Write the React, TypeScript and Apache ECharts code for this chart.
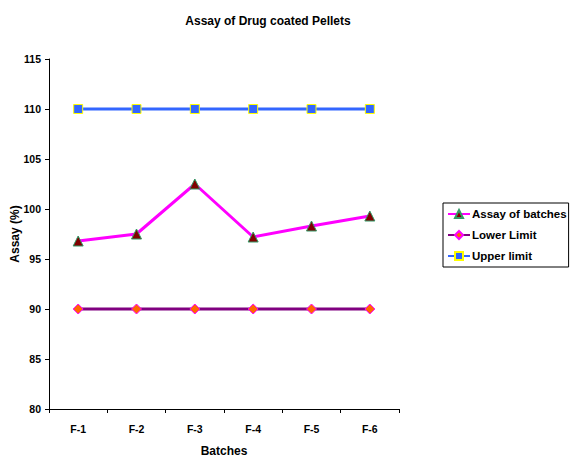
import React, { useEffect, useRef } from "react";
import * as echarts from "echarts";

const categories = ["F-1", "F-2", "F-3", "F-4", "F-5", "F-6"];
const assayValues = [96.8, 97.5, 102.5, 97.2, 98.3, 99.3];
const lowerLimit = [90, 90, 90, 90, 90, 90];
const upperLimit = [110, 110, 110, 110, 110, 110];

const FONT = "'Liberation Sans', Arial, sans-serif";

export default function App() {
  const ref = useRef<HTMLDivElement>(null);
  useEffect(() => {
    document.body.style.margin = "0";
    if (!ref.current) return;
    const chart = echarts.init(ref.current, null, { renderer: "svg" });
    chart.setOption({
      animation: false,
      backgroundColor: "#ffffff",
      textStyle: { fontFamily: FONT },
      title: {
        text: "Assay of Drug coated Pellets",
        left: 263,
        top: 10,
        textAlign: "center",
        textStyle: { fontSize: 12, fontWeight: "bold", color: "#000", fontFamily: FONT },
      },
      grid: { left: 49, right: 172, top: 59, bottom: 48, containLabel: false, outerBoundsMode: "none" },
      legend: {
        orient: "vertical",
        left: 443,
        top: 203,
        width: 127,
        padding: [5, 2, 5, 4],
        itemGap: 9,
        itemWidth: 22,
        itemHeight: 10,
        borderColor: "#000",
        borderWidth: 1,
        textStyle: { fontSize: 11.5, fontWeight: "bold", color: "#000", fontFamily: FONT, padding: [0, 0, 0, -3] },
        data: ["Assay of batches", "Lower Limit", "Upper limit"],
      },
      xAxis: {
        type: "category",
        data: categories,
        boundaryGap: true,
        name: "Batches",
        nameLocation: "middle",
        nameGap: 36,
        nameMoveOverlap: false,
        nameTextStyle: { fontSize: 12, fontWeight: "bold", color: "#000", fontFamily: FONT },
        axisLine: { lineStyle: { color: "#000", width: 1 } },
        axisTick: { show: true, length: 4, lineStyle: { color: "#000" } },
        axisLabel: { fontSize: 10.5, fontWeight: "bold", color: "#000", margin: 14, fontFamily: FONT },
        splitLine: { show: false },
      },
      yAxis: {
        type: "value",
        min: 80,
        max: 115,
        interval: 5,
        name: "Assay (%)",
        nameLocation: "middle",
        nameGap: 28,
        nameMoveOverlap: false,
        nameTextStyle: { fontSize: 12, fontWeight: "bold", color: "#000", fontFamily: FONT },
        axisLine: { show: true, lineStyle: { color: "#000", width: 1 } },
        axisTick: { show: true, length: 4, lineStyle: { color: "#000" } },
        axisLabel: { fontSize: 10.5, fontWeight: "bold", color: "#000", margin: 8, fontFamily: FONT },
        splitLine: { show: false },
      },
      series: [
        {
          name: "Assay of batches",
          type: "line",
          data: assayValues,
          symbol: "triangle",
          symbolSize: 10,
          lineStyle: { color: "#ff00ff", width: 3 },
          itemStyle: { color: "#800000", borderColor: "#339966", borderWidth: 1 },
          z: 4,
        },
        {
          name: "Lower Limit",
          type: "line",
          data: lowerLimit,
          symbol: "diamond",
          symbolSize: 10,
          lineStyle: { color: "#800080", width: 3 },
          itemStyle: { color: "#ff6600", borderColor: "#ff00ff", borderWidth: 1 },
          z: 3,
        },
        {
          name: "Upper limit",
          type: "line",
          data: upperLimit,
          symbol: "rect",
          symbolSize: 9,
          lineStyle: { color: "#3366ff", width: 3 },
          itemStyle: { color: "#3366ff", borderColor: "#ffff00", borderWidth: 1 },
          z: 3,
        },
      ],
    });
    return () => chart.dispose();
  }, []);
  return <div ref={ref} style={{ width: 571, height: 457 }} />;
}
